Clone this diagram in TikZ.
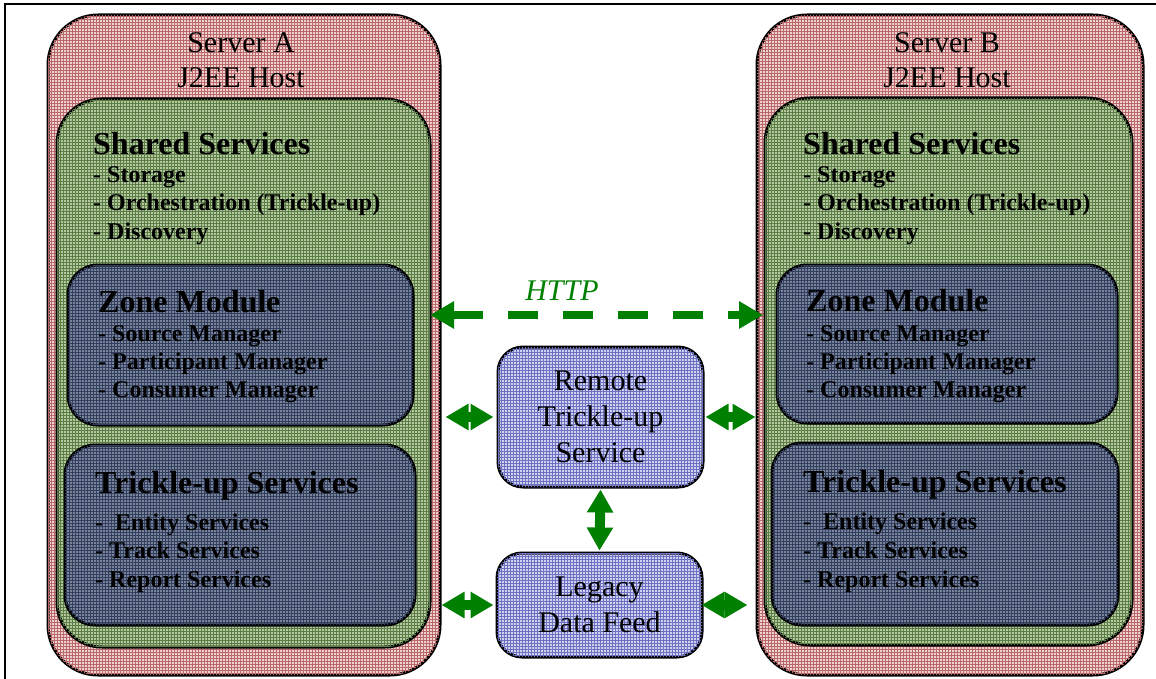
\documentclass[tikz,border=0pt]{standalone}
\usepackage{fontspec}
\setmainfont{Liberation Serif}
\usetikzlibrary{arrows.meta,patterns}
\definecolor{srvfill}{HTML}{F0D2D2}
\definecolor{srvline}{HTML}{B86868}
\definecolor{shfill}{HTML}{B6C8A2}
\definecolor{shline}{HTML}{5A7E44}
\definecolor{znfill}{HTML}{7A8498}
\definecolor{znline}{HTML}{323E60}
\definecolor{ctfill}{HTML}{D0D2F2}
\definecolor{ctline}{HTML}{6E70C0}
\definecolor{arrgreen}{HTML}{008000}
\begin{document}
\begin{tikzpicture}[x=1pt,y=-1pt,
  boxbase/.style={draw=black, line width=3pt, rectangle, inner sep=0pt},
  server/.style={boxbase, fill=srvfill, rounded corners=50pt,
    postaction={pattern=grid, pattern color=srvline}},
  shared/.style={boxbase, fill=shfill, rounded corners=45pt,
    postaction={pattern=grid, pattern color=shline}},
  zone/.style={boxbase, fill=znfill, rounded corners=30pt,
    postaction={pattern=grid, pattern color=znline}},
  central/.style={boxbase, fill=ctfill, rounded corners=25pt, align=center,
    font=\fontsize{30}{36}\selectfont,
    postaction={pattern=grid, pattern color=ctline}},
  hosttext/.style={align=center, inner sep=0pt, font=\fontsize{30}{35}\selectfont},
  bigtitle/.style={anchor=base west, inner sep=0pt, font=\fontsize{32}{36}\selectfont\bfseries},
  item/.style={anchor=base west, inner sep=0pt, font=\fontsize{24}{28}\selectfont\bfseries},
  tipg/.tip={Triangle[length=23pt,width=25pt]},
  dbl/.style={tipg-tipg, draw=arrgreen, line width=10pt},
  httparrow/.style={{Triangle[length=24pt,width=26pt]}-{Triangle[length=24pt,width=26pt]},
    draw=arrgreen, line width=8pt, dash pattern=on 30pt off 25pt}
]
\useasboundingbox (0,0) rectangle (1156,679);
\draw[line width=2pt] (5,679) -- (5,4) -- (1156,4);

% Server A
\node[server, minimum width=392pt, minimum height=660pt] (srvA) at (244,345) {};
\node[hosttext] (srvAlbl) at (241,60) {Server A\\J2EE Host};
\node[shared, minimum width=373pt, minimum height=548pt] (shA) at (243.5,373) {};
\node[bigtitle] (shAt) at (93,155) {Shared Services};
\node[item] (shA1) at (93,183) {- Storage};
\node[item] (shA2) at (93,211) {- Orchestration (Trickle-up)};
\node[item] (shA3) at (93,239) {- Discovery};
\node[zone, minimum width=345pt, minimum height=160pt] (znA) at (240.5,345) {};
\node[bigtitle] (znAt) at (98,312) {Zone Module};
\node[item] (znA1) at (98,341) {- Source Manager};
\node[item] (znA2) at (98,369) {- Participant Manager};
\node[item] (znA3) at (98,397) {- Consumer Manager};
\node[zone, minimum width=350pt, minimum height=180pt] (tuA) at (240,535) {};
\node[bigtitle] (tuAt) at (95,493) {Trickle-up Services};
\node[item] (tuA1) at (95,530) {-~ Entity Services};
\node[item] (tuA2) at (95,558) {- Track Services};
\node[item] (tuA3) at (95,587) {- Report Services};

% Server B
\node[server, minimum width=386pt, minimum height=660pt] (srvB) at (950,345) {};
\node[hosttext] (srvBlbl) at (947,60) {Server B\\J2EE Host};
\node[shared, minimum width=367pt, minimum height=547pt] (shB) at (948.5,371.5) {};
\node[bigtitle] (shBt) at (803,155) {Shared Services};
\node[item] (shB1) at (803,183) {- Storage};
\node[item] (shB2) at (803,211) {- Orchestration (Trickle-up)};
\node[item] (shB3) at (803,239) {- Discovery};
\node[zone, minimum width=340pt, minimum height=158pt] (znB) at (947,344) {};
\node[bigtitle] (znBt) at (806,311) {Zone Module};
\node[item] (znB1) at (806,341) {- Source Manager};
\node[item] (znB2) at (806,369) {- Participant Manager};
\node[item] (znB3) at (806,397) {- Consumer Manager};
\node[zone, minimum width=346pt, minimum height=182pt] (tuB) at (945,534) {};
\node[bigtitle] (tuBt) at (803,492) {Trickle-up Services};
\node[item] (tuB1) at (803,529) {-~ Entity Services};
\node[item] (tuB2) at (803,558) {- Track Services};
\node[item] (tuB3) at (803,587) {- Report Services};

% Central boxes
\node[central, minimum width=205pt, minimum height=140pt] (rts) at (600.5,417) {Remote\\Trickle-up\\Service};
\node[central, minimum width=205pt, minimum height=104pt] (ldf) at (599.5,605) {Legacy\\Data Feed};

% HTTP
\node[anchor=base, inner sep=0pt, text=arrgreen, font=\fontsize{30}{36}\selectfont\itshape] (http) at (562,300) {HTTP};
\coordinate (hL) at (430,315);
\coordinate (hR) at (763,315);
\draw[httparrow] (hL) -- (hR);

% Arrows
\draw[dbl, shorten <=4pt, shorten >=3pt] (srvA.east |- rts.west) -- (rts.west);
\draw[dbl, shorten <=1pt, shorten >=0pt] (rts.east) -- (srvB.west |- rts.east);
\draw[dbl, shorten <=1pt, shorten >=1pt] (rts.south) -- (ldf.north);
\draw[dbl, shorten <=0pt, shorten >=2pt] (srvA.east |- ldf.west) -- (ldf.west);
\draw[dbl, shorten <=-2pt, shorten >=8pt] (ldf.east) -- (srvB.west |- ldf.east);
\end{tikzpicture}
\end{document}
